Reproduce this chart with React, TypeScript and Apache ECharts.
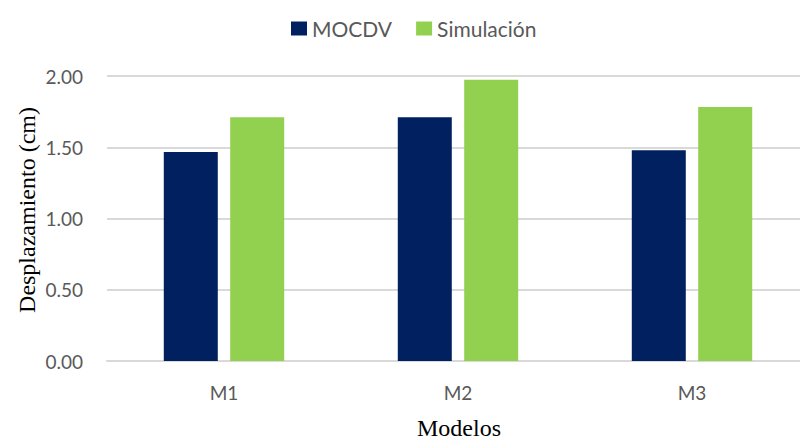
import React, { useEffect, useRef } from "react";
import * as echarts from "echarts";

const categories = ["M1", "M2", "M3"];
const mocdv = [1.467, 1.71, 1.479];
const simulacion = [1.71, 1.974, 1.782];
const yTicks = { min: 0, max: 2, interval: 0.5 };

export default function App() {
  const ref = useRef<HTMLDivElement>(null);
  useEffect(() => {
    if (!ref.current) return;
    const chart = echarts.init(ref.current, undefined, { renderer: "svg" });
    const labelFont = "Lato, 'Open Sans', sans-serif";
    chart.setOption({
      animation: false,
      backgroundColor: "#ffffff",
      legend: {
        data: ["MOCDV", "Simulación"],
        left: 286,
        top: 13,
        itemWidth: 16,
        itemHeight: 14,
        itemGap: 24,
        icon: "rect",
        textStyle: { color: "#595959", fontSize: 21, fontFamily: labelFont },
      },
      grid: { left: 107, top: 76, width: 702, bottom: 79, containLabel: false, outerBoundsMode: "none" },
      xAxis: {
        type: "category",
        data: categories,
        axisLine: { lineStyle: { color: "#d9d9d9", width: 2 } },
        axisTick: { show: false },
        axisLabel: { color: "#595959", fontSize: 19, fontFamily: labelFont, margin: 22 },
      },
      yAxis: {
        type: "value",
        min: yTicks.min,
        max: yTicks.max,
        interval: yTicks.interval,
        axisLine: { show: false },
        axisTick: { show: false },
        splitLine: { lineStyle: { color: "#d9d9d9", width: 2 } },
        axisLabel: {
          color: "#595959",
          fontSize: 19,
          fontFamily: labelFont,
          margin: 24,
          formatter: (v: number) => v.toFixed(2),
        },
      },
      series: [
        {
          name: "MOCDV",
          type: "bar",
          data: mocdv,
          barWidth: 54,
          barGap: "23%",
          itemStyle: { color: "#002060" },
        },
        {
          name: "Simulación",
          type: "bar",
          data: simulacion,
          barWidth: 54,
          barGap: "23%",
          itemStyle: { color: "#92D050" },
        },
      ],
      graphic: [
        {
          type: "text",
          x: 27,
          y: 210,
          rotation: Math.PI / 2,
          style: {
            text: "Desplazamiento (cm)",
            font: "24px 'Liberation Serif', 'Times New Roman', serif",
            fill: "#000000",
            align: "center",
            verticalAlign: "middle",
          },
        },
        {
          type: "text",
          x: 459,
          y: 428,
          style: {
            text: "Modelos",
            font: "24px 'Liberation Serif', 'Times New Roman', serif",
            fill: "#000000",
            align: "center",
            verticalAlign: "middle",
          },
        },
      ],
    });
    return () => chart.dispose();
  }, []);
  return <div ref={ref} style={{ width: 800, height: 440, position: "absolute", left: 0, top: 0 }} />;
}
